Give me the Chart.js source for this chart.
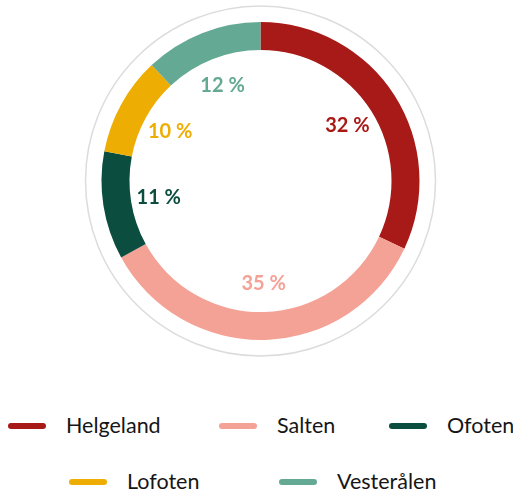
<!DOCTYPE html>
<html>
<head>
<meta charset="utf-8">
<script src="https://cdn.jsdelivr.net/npm/chart.js@4/dist/chart.umd.min.js"></script>
<style>
  html, body { margin: 0; padding: 0; background: #ffffff; }
  #wrap { position: relative; width: 513px; height: 496px; }
  #c { position: absolute; left: 0; top: 0; }
  .lg-item { position: absolute; height: 30px; line-height: 30px; white-space: nowrap;
             font-family: Lato, "Noto Sans", sans-serif; font-size: 21.5px; color: #161616; }
  .lg-mark { position: absolute; width: 38px; height: 6px; border-radius: 3px; }
</style>
</head>
<body>
<div id="wrap">
  <canvas id="c" width="513" height="370"></canvas>
  <div id="legend"></div>
</div>
<script>
// ---- data ----
const categories = ["Helgeland", "Salten", "Ofoten", "Lofoten", "Vesterålen"];
const shares = [32, 35, 11, 10, 12];
const colors = ["#A81A17", "#F4A196", "#0B4D3F", "#EEAD02", "#64A993"];

// ---- layout (legend placement) ----
const legendRows = [[0, 1, 2], [3, 4]];
const legendLeft = [8, 219, 389, 69, 279];
const legendRowY = [425, 481];

const ringPlugin = {
  id: 'outerRing',
  beforeDatasetsDraw(chart) {
    const arc = chart.getDatasetMeta(0).data[0];
    if (!arc) return;
    const { x, y, outerRadius } = arc.getProps(['x', 'y', 'outerRadius'], true);
    const ctx = chart.ctx;
    ctx.save();
    ctx.beginPath();
    ctx.arc(x, y, outerRadius + 16, 0, Math.PI * 2);
    ctx.lineWidth = 1.5;
    ctx.strokeStyle = '#DCDCDC';
    ctx.stroke();
    ctx.restore();
  }
};

const labelPlugin = {
  id: 'pctLabels',
  afterDatasetsDraw(chart) {
    const ctx = chart.ctx;
    const meta = chart.getDatasetMeta(0);
    ctx.save();
    ctx.font = 'bold 20px Lato, "Noto Sans", sans-serif';
    ctx.textAlign = 'center';
    ctx.textBaseline = 'middle';
    meta.data.forEach((arc, i) => {
      const p = arc.getProps(['x', 'y', 'startAngle', 'endAngle', 'innerRadius'], true);
      const mid = (p.startAngle + p.endAngle) / 2;
      const r = p.innerRadius - 28;
      ctx.fillStyle = colors[i];
      ctx.fillText(shares[i] + ' %', p.x + Math.cos(mid) * r, p.y + Math.sin(mid) * r);
    });
    ctx.restore();
  }
};

const chart = new Chart(document.getElementById('c'), {
  type: 'doughnut',
  data: {
    labels: categories,
    datasets: [{
      data: shares,
      backgroundColor: colors,
      borderWidth: 0,
      hoverOffset: 0
    }]
  },
  options: {
    responsive: false,
    animation: false,
    cutout: '82.4%',
    layout: { padding: { left: 101.5, right: 93.5, top: 22, bottom: 30 } },
    plugins: {
      legend: { display: false },
      tooltip: { enabled: false }
    },
    events: []
  },
  plugins: [ringPlugin, labelPlugin]
});

// HTML legend built from chart data
const legendEl = document.getElementById('legend');
legendRows.forEach((row, ri) => {
  row.forEach(idx => {
    const cy = legendRowY[ri];
    const x = legendLeft[idx];
    const mark = document.createElement('div');
    mark.className = 'lg-mark';
    mark.style.left = x + 'px';
    mark.style.top = (cy - 2) + 'px';
    mark.style.background = chart.data.datasets[0].backgroundColor[idx];
    legendEl.appendChild(mark);
    const item = document.createElement('div');
    item.className = 'lg-item';
    item.style.left = (x + 58) + 'px';
    item.style.top = (cy - 15.3) + 'px';
    item.textContent = chart.data.labels[idx];
    legendEl.appendChild(item);
  });
});
</script>
</body>
</html>
